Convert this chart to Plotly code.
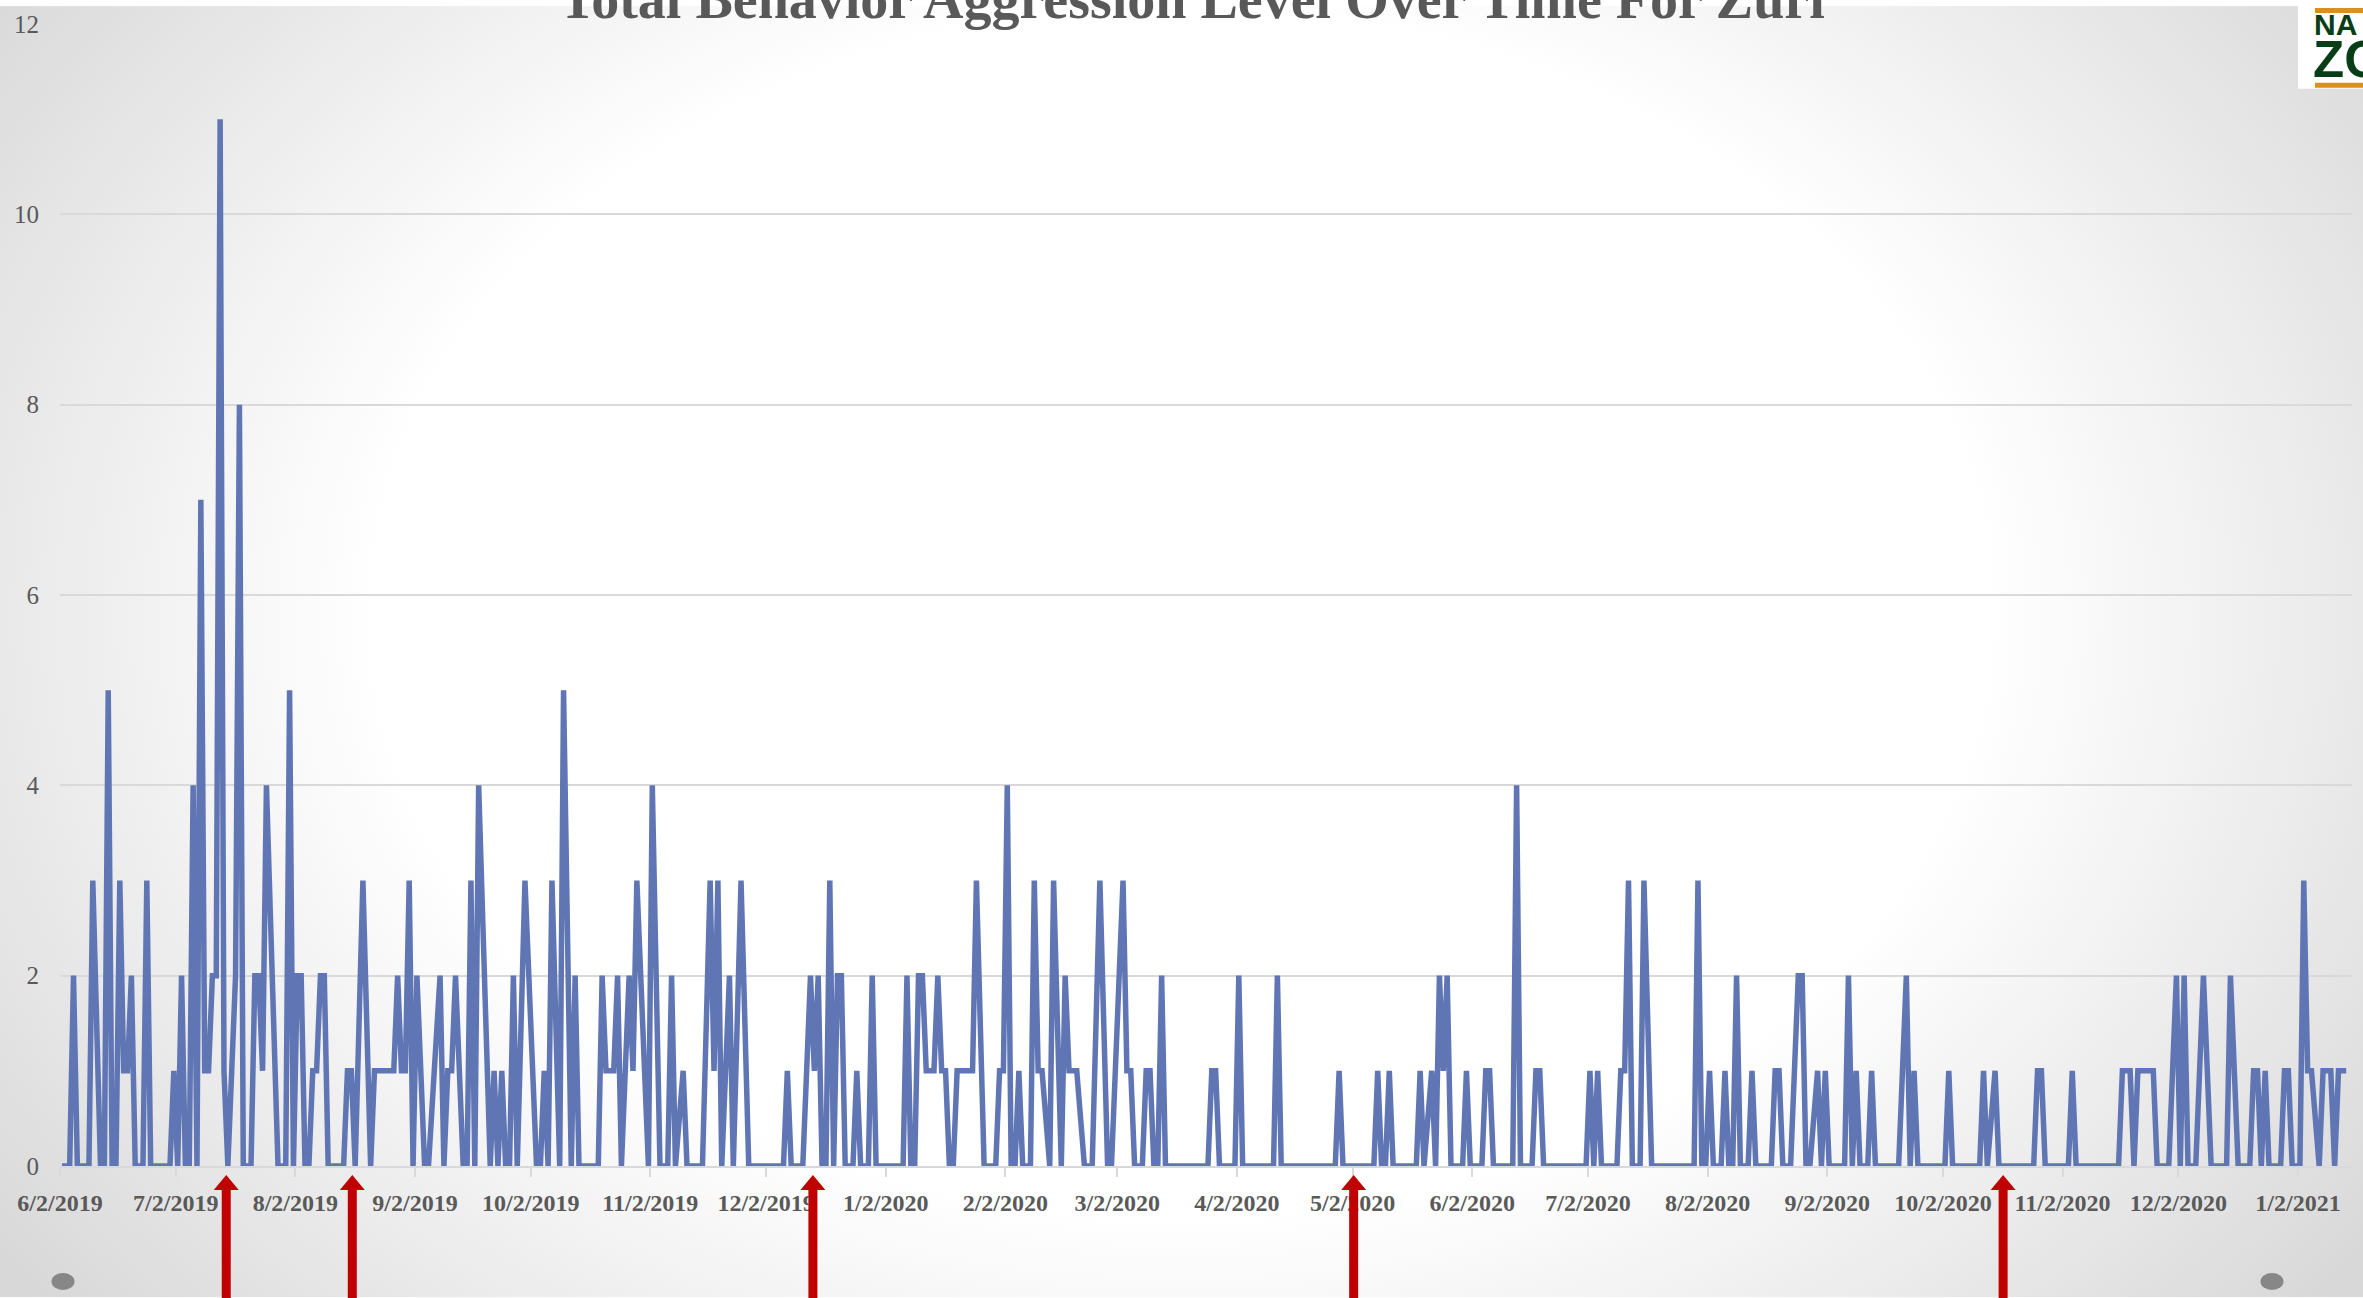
import base64
import pandas as pd
import plotly.graph_objects as go

# ---------------- data ----------------
title_text = "Total Behavior Aggression Level Over Time For Zuri"
start_date = "2019-06-02"

# days after 6/2/2019 at which the line changes direction
day_offsets = [
    0, 2, 3, 4, 7, 8, 10, 11, 12, 13, 14, 15, 16, 17, 18, 19, 21, 22, 23, 28,
    29, 30, 31, 32, 33, 34, 35, 36, 37, 38, 39, 40, 41, 42, 43, 45, 46, 47, 49, 50,
    51, 52, 53, 56, 58, 59, 60, 61, 62, 63, 64, 65, 66, 67, 68, 69, 73, 74, 75, 76,
    78, 80, 81, 86, 87, 88, 89, 90, 91, 92, 94, 95, 98, 99, 100, 101, 102, 104, 105, 106,
    107, 108, 111, 112, 113, 114, 115, 116, 117, 118,
    120, 123, 124, 125, 126, 127, 129, 130, 132, 133, 134, 139, 140, 141, 143, 144, 145, 147, 148, 149,
    152, 153, 155, 157, 158, 159, 161, 162, 166, 168, 169, 170, 171, 173, 174, 176, 178, 187, 188, 189,
    192, 194, 195, 196, 197, 198, 199, 200, 201, 202, 203, 205, 206, 207, 209, 210, 211, 218, 219, 220,
    221, 222, 223, 224, 226, 227, 228, 229, 230, 231, 232, 236, 237,
    239, 242, 243, 244, 245, 246, 247, 248, 249, 251, 252, 253, 254, 256, 257, 259, 260, 261, 263, 265,
    267, 269, 271, 272, 273, 275, 276, 277, 278, 280, 281, 282, 283, 284, 285, 286, 297, 298, 299, 300,
    304, 305, 306, 314, 315, 316, 330, 331, 332, 340, 341, 342, 343, 344, 345, 351, 352, 353, 355, 356,
    357,
    358, 359, 360, 363, 364, 365, 368, 369, 370, 371, 376, 377, 378, 381, 382, 383, 384, 395, 396, 397,
    398, 399, 403, 404, 405, 406, 407, 409, 410, 412, 423, 424, 425, 426, 427, 428, 430, 431, 432, 433,
    434, 435, 437, 438, 439, 443, 444, 445, 446, 448, 450, 451, 452, 453, 455, 456, 457, 458, 462, 463,
    464, 465, 466, 468, 469, 470, 476,
    478, 479, 480, 481, 488, 489, 490, 497, 498, 499, 501, 502, 511, 512, 513, 514, 520, 521, 522, 533,
    534, 536, 537, 538, 542, 543, 546, 548, 549, 550, 551, 553, 555, 556, 557, 561, 562, 564, 567, 568,
    569, 570, 571, 572, 575, 576, 577, 578, 580, 581, 582, 583, 585, 586, 588, 589, 590, 592,
]

aggression_level = [
    0, 0, 2, 0, 0, 3, 0, 0, 5, 0, 0, 3, 1, 1, 2, 0, 0, 3, 0, 0,
    1, 0, 2, 0, 0, 4, 0, 7, 1, 1, 2, 2, 11, 1, 0, 2, 8, 0, 0, 2,
    2, 1, 4, 0, 0, 5, 0, 2, 2, 0, 0, 1, 1, 2, 2, 0, 0, 1, 1, 0,
    3, 0, 1, 1, 2, 1, 1, 3, 0, 2, 0, 0, 2, 0, 1, 1, 2, 0, 0, 3,
    0, 4, 0, 1, 0, 1, 0, 0, 2, 0,
    3, 0, 0, 1, 0, 3, 0, 5, 0, 2, 0, 0, 2, 1, 1, 2, 0, 2, 1, 3,
    0, 4, 0, 0, 2, 0, 1, 0, 0, 3, 1, 3, 0, 2, 0, 3, 0, 0, 1, 0,
    0, 2, 1, 2, 0, 0, 3, 0, 2, 2, 0, 0, 1, 0, 0, 2, 0, 0, 2, 0,
    0, 2, 2, 1, 1, 2, 1, 1, 0, 0, 1, 1, 3,
    0, 0, 1, 1, 4, 0, 0, 1, 0, 0, 3, 1, 1, 0, 3, 0, 2, 1, 1, 0,
    0, 3, 0, 0, 1, 3, 1, 1, 0, 0, 1, 1, 0, 0, 2, 0, 0, 1, 1, 0,
    0, 2, 0, 0, 2, 0, 0, 1, 0, 0, 1, 0, 0, 1, 0, 0, 1, 0, 1, 0,
    2,
    1, 2, 0, 0, 1, 0, 0, 1, 1, 0, 0, 4, 0, 0, 1, 1, 0, 0, 1, 0,
    1, 0, 0, 1, 1, 3, 0, 0, 3, 0, 0, 3, 0, 0, 1, 0, 0, 1, 0, 0,
    2, 0, 0, 1, 0, 0, 1, 1, 0, 0, 2, 2, 0, 0, 1, 0, 1, 0, 0, 2,
    0, 1, 0, 0, 1, 0, 0,
    2, 0, 1, 0, 0, 1, 0, 0, 1, 0, 1, 0, 0, 1, 1, 0, 0, 1, 0, 0,
    1, 1, 0, 1, 1, 0, 0, 2, 0, 2, 0, 0, 2, 1, 0, 0, 2, 0, 0, 1,
    1, 0, 1, 0, 0, 1, 1, 0, 0, 3, 1, 1, 0, 1, 1, 0, 1, 1,
]
assert len(day_offsets) == len(aggression_level)

tick_labels = [
    "6/2/2019", "7/2/2019", "8/2/2019", "9/2/2019", "10/2/2019", "11/2/2019",
    "12/2/2019", "1/2/2020", "2/2/2020", "3/2/2020", "4/2/2020", "5/2/2020",
    "6/2/2020", "7/2/2020", "8/2/2020", "9/2/2020", "10/2/2020", "11/2/2020",
    "12/2/2020", "1/2/2021",
]
y_ticks = [0, 2, 4, 6, 8, 10, 12]

# red arrows under the axis (event markers)
arrow_dates = ["2019-07-15 02:00", "2019-08-16 18:00", "2019-12-14 03:00",
               "2020-05-02 06:30", "2020-10-17 14:00"]

# ---------------- layout geometry ----------------
W, H = 2363, 1298
ML, MR, MT, MB = 60, 11, 18, 132
PW, PH = W - ML - MR, H - MT - MB


def px(xp):
    return (xp - ML) / PW


def py(yp):
    return (H - MB - yp) / PH


start = pd.Timestamp(start_date)
x_dates = [start + pd.Timedelta(days=d, hours=12) for d in day_offsets]
tick_vals = list(pd.to_datetime(tick_labels, format="%m/%d/%Y"))
x_range = [start, start + pd.Timedelta(days=594)]

GRAY_TXT = "#595959"
GRID = "#d9d9d9"
LINE = "#6076b4"

fig = go.Figure()
fig.add_trace(go.Scatter(
    x=x_dates, y=aggression_level, mode="lines",
    line=dict(color=LINE, width=5.5), showlegend=False, hoverinfo="x+y",
))

# background gradient
svg = f"""<svg xmlns='http://www.w3.org/2000/svg' width='{W}' height='{H}' viewBox='0 0 {W} {H}'>
<defs><radialGradient id='g' gradientUnits='userSpaceOnUse' cx='0' cy='0' r='1'
gradientTransform='translate({W/2} {H*0.47}) scale({W*0.62} {H*0.85})'>
<stop offset='0' stop-color='#ffffff'/><stop offset='0.55' stop-color='#ffffff'/>
<stop offset='1' stop-color='#d8d8d8'/></radialGradient></defs>
<rect width='{W}' height='{H}' fill='url(#g)'/></svg>"""
svg_uri = "data:image/svg+xml;base64," + base64.b64encode(svg.encode()).decode()

shapes = []
# arrows
for d in arrow_dates:
    shapes.append(dict(
        type="path", xref="x", xsizemode="pixel", xanchor=d,
        yref="paper", ysizemode="pixel", yanchor=0,
        path="M -4.5,-140 L -4.5,-24 L -12.5,-24 L 0,-9 L 12.5,-24 L 4.5,-24 L 4.5,-140 Z",
        fillcolor="#c00000", line=dict(width=0), layer="above",
    ))
# grey dots at bottom corners
for cx in (63, 2272):
    shapes.append(dict(
        type="circle", xref="paper", yref="paper", xsizemode="pixel", ysizemode="pixel",
        xanchor=px(cx), yanchor=py(1282), x0=-11.5, x1=11.5, y0=-8.5, y1=8.5,
        fillcolor="#878787", line=dict(width=0), layer="above",
    ))
# logo box (top right)
shapes.append(dict(type="rect", xref="paper", yref="paper",
                   x0=px(2298), x1=px(2370), y0=py(83), y1=py(-5),
                   fillcolor="#ffffff", line=dict(width=0), layer="above"))
for (y0, y1) in ((2, 7), (77, 82)):
    shapes.append(dict(type="rect", xref="paper", yref="paper",
                       x0=px(2315), x1=px(2370), y0=py(y1), y1=py(y0),
                       fillcolor="#d9901f", line=dict(width=0), layer="above"))

annotations = [
    dict(text=f"<b>{title_text}</b>", xref="paper", yref="paper",
         x=px(1192), y=1, xanchor="center", yanchor="bottom", yshift=-8,
         showarrow=False, font=dict(family="Liberation Serif", size=56, color=GRAY_TXT)),
    dict(text="<b>NA</b>", xref="paper", yref="paper", x=px(2312), y=py(37),
         xanchor="left", yanchor="bottom", showarrow=False,
         font=dict(family="Liberation Sans", size=30, color="#073d17")),
    dict(text="<b>ZO</b>", xref="paper", yref="paper", x=px(2311), y=py(84),
         xanchor="left", yanchor="bottom", showarrow=False,
         font=dict(family="Liberation Sans", size=51, color="#073d17")),
]

fig.update_layout(
    width=W, height=H,
    margin=dict(l=ML, r=MR, t=MT, b=MB, pad=0),
    paper_bgcolor="#ffffff", plot_bgcolor="rgba(0,0,0,0)",
    showlegend=False,
    images=[dict(source=svg_uri, xref="paper", yref="paper",
                 x=px(0), y=py(0), sizex=px(W) - px(0), sizey=py(0) - py(H),
                 xanchor="left", yanchor="top", sizing="stretch", layer="below")],
    shapes=shapes,
    annotations=annotations,
    xaxis=dict(
        type="date", range=x_range, tickmode="array", tickvals=tick_vals, ticktext=tick_labels,
        showgrid=False, zeroline=False, showline=True, linecolor=GRID, linewidth=2,
        ticks="outside", ticklen=9, tickwidth=2, tickcolor=GRID, ticklabelstandoff=5,
        tickfont=dict(family="Liberation Serif", size=24, color=GRAY_TXT, weight="bold"),
    ),
    yaxis=dict(
        range=[0, 12], tickmode="array", tickvals=y_ticks,
        showgrid=True, gridcolor=GRID, gridwidth=2, zeroline=False, showline=False,
        ticks="", ticklabelstandoff=20,
        tickfont=dict(family="Liberation Serif", size=25, color=GRAY_TXT),
    ),
)

fig.write_html(
    "out.html",
    config={"displayModeBar": False},
    post_script="document.body.style.margin='0px';document.body.style.overflow='hidden';",
)
